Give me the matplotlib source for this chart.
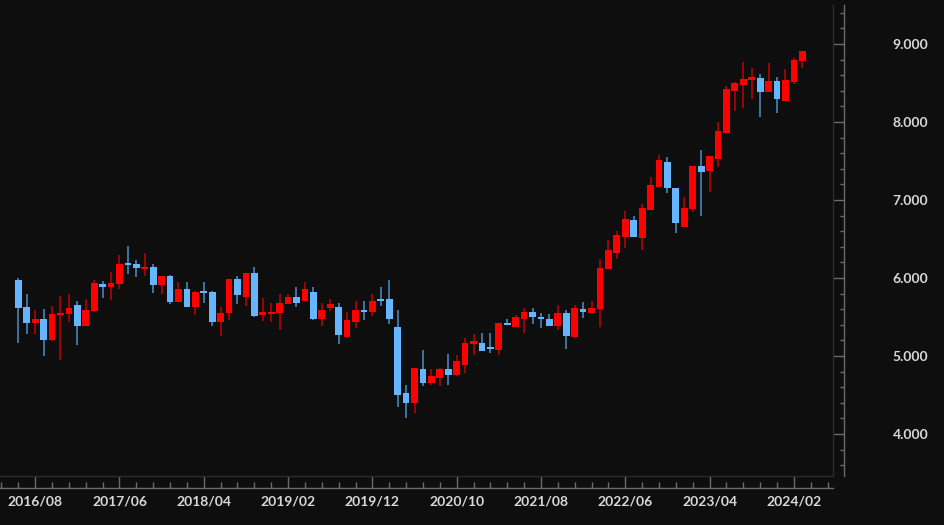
import matplotlib
matplotlib.use('Agg')
import matplotlib.pyplot as plt
from matplotlib.ticker import MultipleLocator, FixedLocator, FuncFormatter

# Monthly candles, first candle = 2016/06
opens = [5.98, 5.63, 5.42, 5.48, 5.20, 5.53, 5.535, 5.65, 5.385, 5.58,
         5.92, 5.88, 5.92, 6.195, 6.18, 6.12, 6.14, 5.91, 6.025, 5.695,
         5.855, 5.63, 5.83, 5.825, 5.44, 5.547, 5.983, 5.76, 6.06, 5.526,
         5.54, 5.555, 5.667, 5.76, 5.705, 5.825, 5.47, 5.62, 5.625, 5.24,
         5.44, 5.59, 5.57, 5.73, 5.727, 5.376, 4.52, 4.40, 4.83, 4.66,
         4.72, 4.83, 4.75, 4.89, 5.154, 5.163, 5.11, 5.077, 5.42, 5.376,
         5.474, 5.57, 5.506, 5.47, 5.385, 5.547, 5.247, 5.60, 5.547, 5.60,
         6.11, 6.325, 6.53, 6.744, 6.51, 6.872, 7.17, 7.49, 7.15, 6.65,
         6.88, 7.43, 7.37, 7.526, 7.855, 8.40, 8.474, 8.54, 8.568, 8.38,
         8.526, 8.273, 8.517, 8.787]
highs = [6.00, 5.79, 5.59, 5.60, 5.64, 5.77, 5.80, 5.70, 5.73, 5.97,
         5.965, 6.08, 6.29, 6.41, 6.23, 6.32, 6.18, 6.03, 6.04, 5.95,
         5.95, 5.83, 5.95, 5.83, 5.63, 5.99, 6.03, 6.065, 6.14, 5.74,
         5.68, 5.79, 5.79, 5.88, 5.95, 5.88, 5.68, 5.73, 5.68, 5.57,
         5.705, 5.705, 5.79, 5.88, 5.98, 5.59, 4.63, 4.845, 5.08, 4.83,
         4.84, 5.03, 5.01, 5.227, 5.28, 5.30, 5.30, 5.425, 5.47, 5.525,
         5.61, 5.62, 5.55, 5.535, 5.654, 5.59, 5.654, 5.69, 5.70, 6.24,
         6.487, 6.606, 6.86, 6.795, 6.945, 7.29, 7.58, 7.555, 7.15, 7.04,
         7.44, 7.64, 7.56, 7.996, 8.465, 8.517, 8.77, 8.69, 8.61, 8.76,
         8.58, 8.675, 8.817, 8.914]
lows = [5.17, 5.28, 5.28, 5.00, 5.19, 4.95, 5.43, 5.14, 5.38, 5.57,
        5.74, 5.72, 5.855, 6.05, 6.01, 6.03, 5.81, 5.80, 5.67, 5.69,
        5.63, 5.53, 5.68, 5.39, 5.25, 5.46, 5.67, 5.64, 5.50, 5.45,
        5.43, 5.33, 5.665, 5.625, 5.70, 5.46, 5.38, 5.58, 5.16, 5.24,
        5.355, 5.46, 5.51, 5.64, 5.41, 4.34, 4.20, 4.27, 4.61, 4.63,
        4.62, 4.63, 4.74, 4.78, 5.01, 5.06, 5.04, 5.01, 5.395, 5.37,
        5.30, 5.406, 5.355, 5.38, 5.33, 5.09, 5.235, 5.49, 5.535, 5.376,
        6.11, 6.24, 6.38, 6.52, 6.36, 6.87, 7.17, 7.09, 6.58, 6.65,
        6.85, 6.79, 7.10, 7.427, 7.855, 8.14, 8.176, 8.30, 8.07, 8.38,
        8.11, 8.27, 8.487, 8.696]
closes = [5.61, 5.42, 5.48, 5.20, 5.535, 5.55, 5.62, 5.385, 5.59, 5.93,
          5.89, 5.93, 6.18, 6.165, 6.125, 6.145, 5.91, 6.025, 5.69, 5.855,
          5.63, 5.82, 5.81, 5.44, 5.547, 5.983, 5.78, 6.06, 5.51, 5.56,
          5.56, 5.683, 5.76, 5.675, 5.86, 5.47, 5.59, 5.67, 5.27, 5.46,
          5.59, 5.565, 5.71, 5.705, 5.48, 4.50, 4.40, 4.84, 4.66, 4.74,
          4.83, 4.75, 4.94, 5.163, 5.19, 5.07, 5.085, 5.42, 5.40, 5.496,
          5.57, 5.497, 5.47, 5.385, 5.547, 5.26, 5.61, 5.57, 5.62, 6.124,
          6.36, 6.55, 6.753, 6.52, 6.90, 7.19, 7.513, 7.16, 6.71, 6.90,
          7.44, 7.355, 7.56, 7.885, 8.423, 8.50, 8.547, 8.573, 8.38, 8.526,
          8.29, 8.54, 8.795, 8.914]

x_tick_labels = ["2016/08", "2017/06", "2018/04", "2019/02", "2019/12",
                 "2020/10", "2021/08", "2022/06", "2023/04", "2024/02"]
x_tick_index = [2, 12, 22, 32, 42, 52, 62, 72, 82, 92]

BG = '#0e0e0e'
UP = '#ff0000'
UP_WICK = '#c40000'
DOWN = '#66b5ff'
DOWN_WICK = '#4c8fcc'
AXIS = '#6a6a6a'
TEXT = '#d8d8d8'

plt.rcParams['font.family'] = ['Lato', 'DejaVu Sans']

W, H = 945, 525
fig = plt.figure(figsize=(W / 100, H / 100), dpi=100, facecolor=BG)
ax = fig.add_axes([0, 1 - 476 / H, 833 / W, 471 / H])
ax.set_facecolor(BG)

idx = list(range(len(opens)))
for i in idx:
    o, h, l, c = opens[i], highs[i], lows[i], closes[i]
    up = c >= o
    ax.vlines(i, l, h, color=UP_WICK if up else DOWN_WICK, lw=1.1, zorder=2)
    body = c - o
    if abs(body) < 0.02:
        b0 = min(o, c) - (0.02 - abs(body)) / 2
        body = 0.02
    else:
        b0 = min(o, c)
        body = abs(body)
    ax.bar(i, body, bottom=b0, width=0.8, color=UP if up else DOWN,
           edgecolor='none', zorder=3)

ax.set_xlim(-2.17, 96.64)
ax.set_ylim(3.4615, 9.5)

for s in ['left', 'top']:
    ax.spines[s].set_visible(False)
ax.spines['right'].set_position(('outward', 11 * 0.72))
ax.spines['bottom'].set_position(('outward', 12 * 0.72))
ax.spines['right'].set_color(AXIS)
ax.spines['bottom'].set_color(AXIS)
ax.spines['right'].set_linewidth(1.0)
ax.spines['bottom'].set_linewidth(1.0)

# faint frame lines
ax.plot([1, 1], [0, 1], transform=ax.transAxes, color='#2c2c2c', lw=1.0, clip_on=False)
ax.plot([0, 1], [0, 0], transform=ax.transAxes, color='#2c2c2c', lw=1.0, clip_on=False)

ax.yaxis.tick_right()
ax.yaxis.set_major_locator(MultipleLocator(1.0))
ax.yaxis.set_minor_locator(MultipleLocator(0.2))
ax.yaxis.set_major_formatter(FuncFormatter(lambda v, p: f"{v:.3f}"))
ax.tick_params(axis='y', which='major', direction='in', length=8.0, width=1.0,
               color=AXIS, labelcolor=TEXT, labelsize=10, pad=35)
ax.tick_params(axis='y', which='minor', direction='in', length=3.0, width=1.0,
               color=AXIS)

ax.xaxis.set_major_locator(FixedLocator(x_tick_index))
ax.set_xticklabels(x_tick_labels)
ax.xaxis.set_minor_locator(MultipleLocator(2))
ax.tick_params(axis='x', which='major', direction='in', length=8.6, width=1.0,
               color=AXIS, labelcolor=TEXT, labelsize=10, pad=5.5)
ax.tick_params(axis='x', which='minor', direction='in', length=4.3, width=1.0,
               color=AXIS)
for t in ax.get_xticklabels() + ax.get_yticklabels():
    t.set_fontweight('bold')

fig.savefig('out.png', dpi=100, facecolor=BG)
